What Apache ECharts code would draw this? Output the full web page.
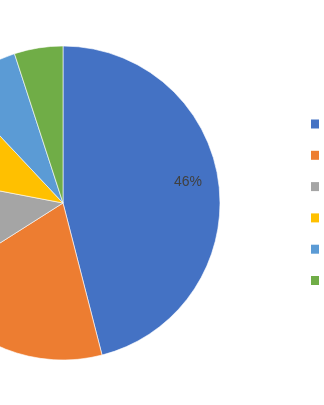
<!DOCTYPE html>
<html>
<head>
<meta charset="utf-8">
<script src="https://cdn.jsdelivr.net/npm/echarts@6/dist/echarts.min.js"></script>
<style>html,body{margin:0;padding:0;background:#fff;}#c{width:324px;height:405px;}</style>
</head>
<body>
<div id="c"></div>
<script>
var categories = ['Category 1', 'Category 2', 'Category 3', 'Category 4', 'Category 5', 'Category 6'];
var values = [46, 20, 12, 10, 7, 5];
var colors = ['#4472C4', '#ED7D31', '#A5A5A5', '#FFC000', '#5B9BD5', '#70AD47'];

var chart = echarts.init(document.getElementById('c'));
var pieData = categories.map(function (n, i) {
  return { name: n, value: values[i], itemStyle: { color: colors[i] } };
});
var labelData = categories.map(function (n, i) {
  return { name: n, value: values[i], label: { show: i === 0 } };
});
chart.setOption({
  animation: false,
  legend: {
    orient: 'vertical',
    left: 311,
    top: 117,
    padding: 0,
    itemWidth: 8,
    itemHeight: 9,
    itemGap: 17.3,
    icon: 'rect',
    itemStyle: { borderWidth: 0 },
    textStyle: { color: '#595959', fontSize: 12, lineHeight: 14, fontFamily: 'Liberation Sans' },
    data: categories
  },
  series: [{
    type: 'pie',
    center: [63, 203],
    radius: [0, 157],
    startAngle: 90,
    clockwise: true,
    label: { show: false },
    labelLine: { show: false },
    itemStyle: { borderColor: '#ffffff', borderWidth: 0.6 },
    emphasis: { disabled: true },
    data: pieData
  }, {
    type: 'pie',
    center: [63, 203],
    radius: [0, 252],
    startAngle: 90,
    clockwise: true,
    silent: true,
    legendHoverLink: false,
    itemStyle: { color: 'rgba(0,0,0,0)' },
    label: {
      position: 'inside',
      formatter: '{d}%',
      color: '#404040',
      fontSize: 14,
      fontFamily: 'Liberation Sans',
      offset: [-3, -5]
    },
    labelLine: { show: false },
    emphasis: { disabled: true },
    data: labelData
  }]
});
</script>
</body>
</html>
